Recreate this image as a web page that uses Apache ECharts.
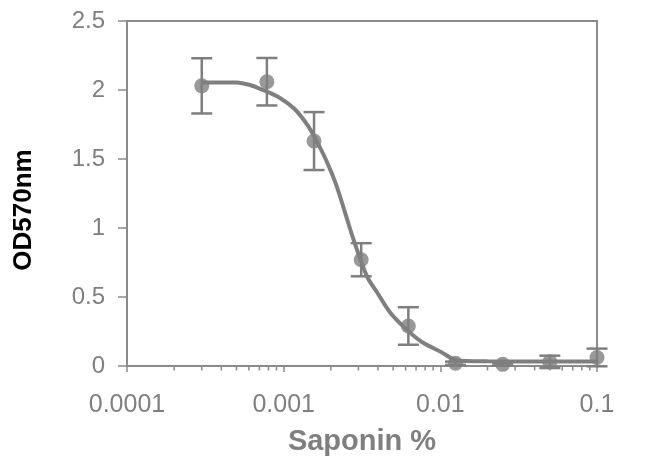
<!DOCTYPE html>
<html><head><meta charset="utf-8">
<script src="https://cdn.jsdelivr.net/npm/echarts@6/dist/echarts.min.js"></script>
<style>html,body{margin:0;padding:0;background:#fff}#c{width:649px;height:461px}</style>
</head><body><div id="c"></div>
<script>
// Data
const concentrations = [0.0003, 0.00078125, 0.0015625, 0.003125, 0.00625, 0.0125, 0.025, 0.05, 0.1];
const odMeans  = [2.03, 2.06, 1.63, 0.77, 0.29, 0.02, 0.012, 0.03, 0.062];
const odErrors = [0.20, 0.172, 0.21, 0.12, 0.136, 0.012, 0.008, 0.045, 0.064];
// Fitted curve
const fitX = [0.0003, 0.0005, 0.00061, 0.00073, 0.00093, 0.00117, 0.00142, 0.00163, 0.00188, 0.00216, 0.00248, 0.00272, 0.00306, 0.00344, 0.00396, 0.00478, 0.00603, 0.00762, 0.0101, 0.0127, 0.02, 0.05, 0.1];
const fitY = [2.055, 2.055, 2.036, 2.002, 1.948, 1.864, 1.745, 1.626, 1.484, 1.316, 1.102, 0.955, 0.785, 0.638, 0.531, 0.388, 0.269, 0.174, 0.102, 0.042, 0.034, 0.032, 0.032];
const xTickLabels = ['0.0001', '0.001', '0.01', '0.1'];
const yTickLabels = ['0', '0.5', '1', '1.5', '2', '2.5'];
const minorMultipliers = [2, 3, 4, 5, 6, 7, 8, 9];
const decades = [0.0001, 0.001, 0.01];

const GRAY = '#7f7f7f';
const AXIS = '#8a8a8a';
const FONT = '"Liberation Sans", Arial, Helvetica, sans-serif';

const minorTicks = [];
decades.forEach(d => minorMultipliers.forEach(m => minorTicks.push([d * m, 0])));

const chart = echarts.init(document.getElementById('c'), null, {renderer: 'canvas'});
chart.setOption({
  animation: false,
  backgroundColor: '#fff',
  grid: {left: 127, right: 52, top: 21, bottom: 90, show: true, borderColor: AXIS, borderWidth: 2, containLabel: false},
  xAxis: {
    type: 'log', logBase: 10, min: 0.0001, max: 0.1,
    name: 'Saponin %', nameLocation: 'middle', nameGap: 61,
    nameTextStyle: {fontFamily: FONT, fontWeight: 'bold', fontSize: 29, color: GRAY},
    axisLine: {show: true, lineStyle: {color: AXIS, width: 2}},
    axisTick: {show: true, length: 6, lineStyle: {color: AXIS, width: 1.5}},
    splitLine: {show: false},
    minorTick: {show: false},
    axisLabel: {
      margin: 27, fontFamily: FONT, fontSize: 25, color: GRAY,
      formatter: v => xTickLabels[Math.round(Math.log10(v)) + 4] || ''
    }
  },
  yAxis: {
    type: 'value', min: 0, max: 2.5, interval: 0.5,
    axisLine: {show: true, lineStyle: {color: AXIS, width: 2}},
    axisTick: {show: true, length: 9, lineStyle: {color: AXIS, width: 1.5}},
    splitLine: {show: false},
    axisLabel: {
      margin: 22, fontFamily: FONT, fontSize: 24, color: GRAY,
      formatter: v => yTickLabels[Math.round(v / 0.5)]
    }
  },
  graphic: [{
    type: 'text', x: 24, y: 210, rotation: Math.PI / 2,
    style: {text: 'OD570nm', font: 'bold 26px ' + FONT, fill: '#000', align: 'center', verticalAlign: 'middle'}
  }],
  series: [
    {
      type: 'custom', silent: true, clip: false, z: 1,
      data: minorTicks,
      renderItem: (params, api) => {
        const p = api.coord([api.value(0), 0]);
        return {type: 'line', shape: {x1: p[0], y1: p[1], x2: p[0], y2: p[1] + 4.5},
                style: {stroke: AXIS, lineWidth: 1.5}};
      }
    },
    {
      type: 'custom', silent: true, clip: false, z: 1,
      data: [[0.1, 0]],
      renderItem: (params, api) => {
        const p = api.coord([api.value(0), api.value(1)]);
        return {type: 'line', shape: {x1: p[0], y1: p[1], x2: p[0] + 9, y2: p[1]},
                style: {stroke: AXIS, lineWidth: 2}};
      }
    },
    {
      type: 'line', data: fitX.map((x, i) => [x, fitY[i]]),
      smooth: 0.3, showSymbol: false, symbol: 'none', z: 2,
      lineStyle: {color: GRAY, width: 4}
    },
    {
      type: 'custom', clip: false, z: 3,
      data: concentrations.map((x, i) => [x, odMeans[i] - odErrors[i], odMeans[i] + odErrors[i]]),
      encode: {x: 0, y: [1, 2]},
      renderItem: (params, api) => {
        const x = api.value(0);
        const lo = api.coord([x, api.value(1)]);
        const hi = api.coord([x, api.value(2)]);
        const w = 10.5;
        const st = {stroke: GRAY, lineWidth: 2.5};
        return {type: 'group', children: [
          {type: 'line', shape: {x1: lo[0], y1: lo[1], x2: hi[0], y2: hi[1]}, style: st},
          {type: 'line', shape: {x1: hi[0] - w, y1: hi[1], x2: hi[0] + w, y2: hi[1]}, style: st},
          {type: 'line', shape: {x1: lo[0] - w, y1: lo[1], x2: lo[0] + w, y2: lo[1]}, style: st}
        ]};
      }
    },
    {
      type: 'scatter', z: 4,
      data: concentrations.map((x, i) => [x, odMeans[i]]),
      symbol: 'circle', symbolSize: 15,
      itemStyle: {color: GRAY}
    }
  ]
});
</script></body></html>
